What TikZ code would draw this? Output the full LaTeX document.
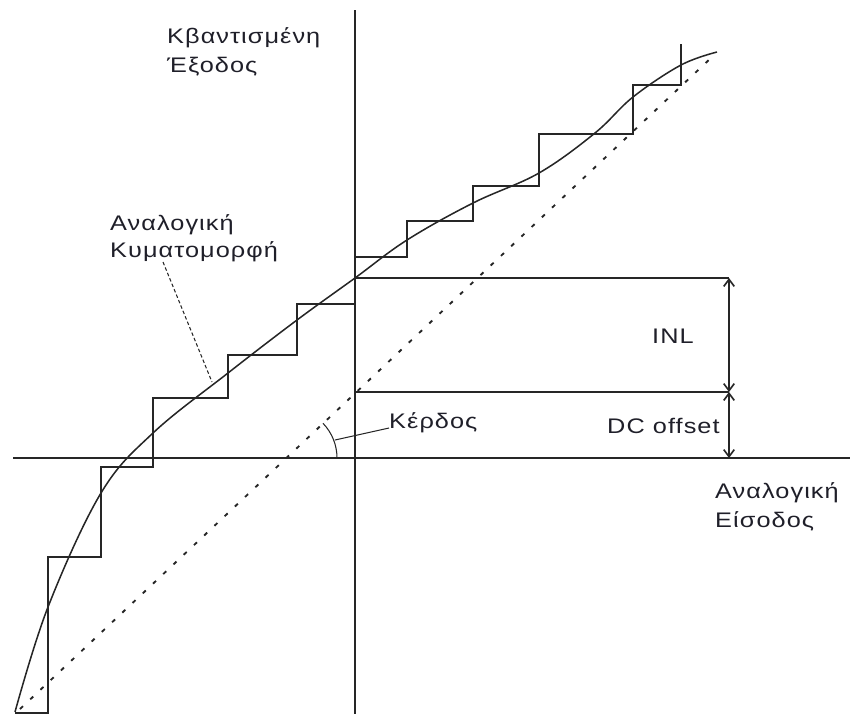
\documentclass[tikz,border=0pt]{standalone}
\usepackage{fontspec}
\setmainfont{Liberation Sans}[FakeStretch=1.2, LetterSpace=5]
\usetikzlibrary{arrows.meta}
\definecolor{lineclr}{rgb}{0.15, 0.15, 0.15}
\definecolor{txtclr}{rgb}{0.12, 0.12, 0.16}
\tikzset{ %
  ,>={Straight Barb[length=6pt,width=9pt]}
  ,every node/.style={font=\fontsize{18}{22}\selectfont, text=txtclr, inner sep=0}
  ,axis/.style={draw=lineclr, line width=1.4pt}
  ,stair/.style={draw=lineclr, line width=1.6pt}
  ,wave/.style={draw=lineclr, line width=1.3pt}
  ,ideal/.style={draw=lineclr, line width=1.6pt, dash pattern=on 3.5pt off 8.5pt}
  ,dim/.style={draw=lineclr, line width=1.4pt, <->}
  ,lead/.style={draw=lineclr, line width=0.9pt}
  ,lbl/.style={anchor=base west}
}

\begin{document}
\begin{tikzpicture}[x=0.03cm, y=-0.03cm]
  \useasboundingbox (0,0) rectangle (850,714);
  % axes
  \draw[axis] (355,10) -- (355,714);
  \draw[axis] (13,458) -- (850,458);
  % ideal transfer line
  \draw[ideal] (20,709) -- (712,57);
  % quantised output
  \draw[stair] (15,713) -- (48,713) -- (48,557) -- (101,557) -- (101,467)
    -- (153,467) -- (153,398) -- (228,398) -- (228,355) -- (297,355)
    -- (297,304) -- (355,304);
  \draw[stair] (355,257) -- (407,257) -- (407,221) -- (473,221) -- (473,186)
    -- (539,186) -- (539,134) -- (633,134) -- (633,85) -- (681,85) -- (681,44);
  % analog waveform
  \draw[wave] plot[smooth, tension=0.6] coordinates {(15,712) (48,607) (101,493)
    (153,433) (228,373) (297,320) (355,278) (407,240) (473,203) (539,173)
    (595,133) (633,97) (681,65) (717,52)};
  % INL and offset
  \coordinate (inlT) at (729,278);
  \coordinate (inlB) at (729,392);
  \coordinate (dcB) at (729,458);
  \draw[axis] (355,278) -- (inlT);
  \draw[axis] (355,392) -- (inlB);
  \draw[dim] (inlT) -- (inlB);
  \draw[dim] (inlB) -- (dcB);
  % gain angle
  \draw[lead] (337,458) arc[start angle=0, end angle=44, radius=1.5cm];
  \coordinate (gainarc) at (335,440);
  % labels
  \node[lbl] (ylabA) at (167,43) {Κβαντισμένη};
  \node[lbl] (ylabB) at (167,72) {Έξοδος};
  \node[lbl] (wavA) at (110,230) {Αναλογική};
  \node[lbl] (wavB) at (110,257) {Κυματομορφή};
  \node[lbl] (inl) at (652,343) {INL};
  \node[lbl] (dc) at (607,433) {DC offset};
  \node[lbl] (gain) at (389,428) {Κέρδος};
  \node[lbl] (xlabA) at (715,498) {Αναλογική};
  \node[lbl] (xlabB) at (715,527) {Είσοδος};
  \coordinate (wavlead) at (163,262);
  \coordinate (wavtip) at (212,382);
  \draw[lead, densely dashed] (wavlead) -- (wavtip);
  \draw[lead] (gainarc) -- (gain.base west);
\end{tikzpicture}
\end{document}
